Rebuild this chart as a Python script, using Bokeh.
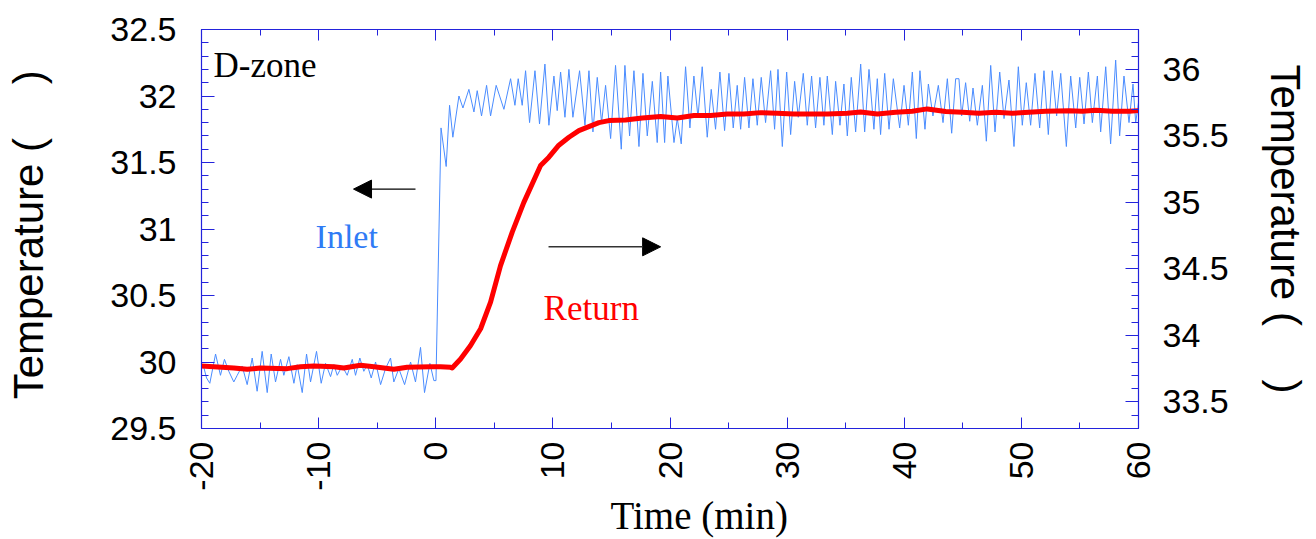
import math
from bokeh.plotting import figure
from bokeh.models import (Range1d, LinearAxis, Label, Arrow, NormalHead,
                          SingleIntervalTicker, CustomJSTickFormatter)
from bokeh.embed import file_html
from bokeh.resources import INLINE

# ---------------- data ----------------
inlet_time = [
    -20.0, -19.86, -19.57, -19.29, -18.80, -18.38, -18.04, -17.67, -17.24, -16.95,
    -16.53, -16.10, -15.67, -15.25, -14.82, -14.39, -14.05, -13.68, -13.25, -12.97,
    -12.54, -12.11, -11.83, -11.40, -11.03, -10.69, -10.18, -9.78, -9.41, -8.98,
    -8.70, -8.41, -7.99, -7.56, -7.13, -6.85, -6.48, -6.14, -5.85, -5.51,
    -5.14, -4.71, -4.29, -3.86, -3.58, -3.15, -2.66, -2.15, -1.73, -1.30,
    -0.96, -0.50, -0.16, 0.02,
    0.45, 0.89, 1.18, 1.46, 1.98, 2.32, 2.83, 3.26, 3.54, 3.91,
    4.34, 4.68, 5.16, 5.82, 6.39, 6.76, 7.04, 7.38, 7.67, 8.01,
    8.47, 8.86, 9.32, 9.66, 10.09, 10.37, 10.66, 11.03, 11.37, 11.71,
    12.28, 12.74, 13.08, 13.42, 13.79, 14.16, 14.50, 14.93, 15.35, 15.84,
    16.15, 16.55, 16.92, 17.35, 17.69, 18.06, 18.49, 18.91, 19.20,
    19.54, 19.82, 20.34, 20.62, 20.96, 21.33, 21.70, 22.04, 22.39, 22.75,
    23.18, 23.52, 23.89, 24.26, 24.66, 25.03, 25.40, 25.74, 26.03, 26.37,
    26.74, 27.08, 27.45, 27.79, 28.16, 28.59, 28.93, 29.22, 29.59, 29.96,
    30.30, 30.64, 30.95, 31.38, 31.72, 32.09, 32.43, 32.80, 33.14, 33.43,
    33.86, 34.14, 34.51, 34.85, 35.14, 35.48, 35.85, 36.28, 36.62, 36.99,
    37.41, 37.70, 37.98, 38.33, 38.70, 39.07,
    39.61, 39.98, 40.35, 40.69, 41.03, 41.34, 41.77, 42.06, 42.45, 42.91,
    43.31, 43.68, 44.05, 44.39, 44.67, 44.90, 45.24, 45.59, 45.87, 46.24,
    46.67, 47.01, 47.38, 47.75, 48.15, 48.52, 48.94, 49.37, 49.74, 50.08,
    50.42, 50.79, 51.16, 51.56, 51.93, 52.30, 52.64, 53.01, 53.36, 53.84,
    54.21, 54.64, 54.98, 55.35, 55.72, 56.06, 56.49, 56.77, 57.20, 57.62,
    58.05, 58.39, 58.76, 59.19, 59.53, 59.76, 60.0,
]
inlet_temp = [
    29.96, 29.98, 29.88, 29.84, 30.06, 29.90, 30.02, 29.93, 29.85, 29.90,
    29.97, 29.83, 30.03, 29.78, 30.08, 29.77, 30.06, 29.85, 30.02, 29.90,
    30.04, 29.84, 29.98, 29.77, 30.06, 29.85, 30.08, 29.84, 29.99, 29.89,
    29.98, 29.90, 29.97, 29.90, 30.02, 29.90, 30.03, 29.93, 29.98, 29.88,
    30.00, 29.83, 29.95, 30.03, 29.85, 29.95, 29.83, 30.00, 29.85, 30.11,
    29.77, 29.99, 29.86, 29.86,
    31.76, 31.47, 31.93, 31.69, 32.00, 31.91, 32.05, 31.88, 32.04, 31.85,
    32.08, 31.85, 32.08, 31.90, 32.13, 31.93, 32.13, 31.93, 32.19, 31.80,
    32.19, 31.79, 32.24, 31.78, 32.15, 31.89, 32.18, 31.84, 32.20, 31.84,
    32.19, 31.78, 32.19, 31.73, 32.14, 31.80, 32.08, 31.68, 32.23, 31.60,
    32.23, 31.70, 32.19, 31.62, 32.17, 31.70, 32.11, 31.65, 32.18,
    31.65, 32.15, 31.65, 31.83, 31.64, 32.22, 31.76, 32.15, 31.84, 32.22,
    31.69, 32.05, 31.75, 32.18, 31.74, 32.17, 31.76, 32.08, 31.75, 32.14,
    31.76, 32.13, 31.78, 32.14, 31.80, 32.19, 31.75, 32.20, 31.62, 32.18,
    31.71, 32.11, 31.84, 32.17, 31.78, 32.15, 31.76, 32.14, 31.78, 32.15,
    31.71, 32.11, 31.78, 32.09, 31.70, 32.14, 31.73, 32.24, 31.73, 32.20,
    31.75, 32.13, 31.71, 32.17, 31.75, 32.13,
    31.76, 32.08, 31.78, 32.18, 31.68, 32.19, 31.75, 32.09, 31.85, 32.08,
    31.80, 32.13, 31.72, 32.13, 32.13, 31.85, 32.10, 31.81, 32.06, 31.78,
    32.08, 31.66, 32.23, 31.73, 32.18, 31.83, 32.12, 31.62, 32.22, 31.78,
    32.10, 31.78, 32.17, 31.76, 32.19, 31.71, 32.19, 31.85, 32.17, 31.62,
    32.15, 31.76, 32.14, 31.79, 32.18, 31.80, 32.15, 31.73, 32.22, 31.64,
    32.27, 31.70, 32.15, 31.80, 32.09, 31.80, 31.95,
]

return_time = [
    -20.0, -17.24, -16.1, -14.96, -12.68, -11.55, -10.4, -8.7, -7.85, -6.42,
    -5.28, -3.58, -2.44, -0.44, 0.41, 1.26, 1.4, 2.12, 2.97, 3.83,
    4.68, 5.53, 6.53, 7.52, 8.95, 9.66, 10.51, 11.37, 12.22, 13.07,
    13.93, 14.78, 16.2, 17.63, 19.2, 20.62, 22.04, 23.47, 24.89, 26.31,
    27.74, 29.16, 30.58, 32.0, 33.43, 35.14, 36.28, 37.7, 39.27, 40.69,
    41.97, 43.54, 44.96, 46.38, 47.8, 49.23, 50.65, 52.07, 54.07, 55.21,
    56.35, 57.77, 59.19, 60.0,
]
return_temp = [
    33.77, 33.755, 33.745, 33.755, 33.75, 33.765, 33.77, 33.765, 33.755, 33.775,
    33.765, 33.745, 33.76, 33.765, 33.765, 33.76, 33.755, 33.823, 33.924, 34.05,
    34.25, 34.525, 34.776, 35.00, 35.277, 35.34, 35.43, 35.49, 35.54, 35.57,
    35.60, 35.615, 35.62, 35.635, 35.646, 35.635, 35.653, 35.653, 35.665, 35.665,
    35.675, 35.67, 35.665, 35.665, 35.665, 35.67, 35.68, 35.665, 35.678, 35.685,
    35.703, 35.683, 35.678, 35.67, 35.678, 35.67, 35.678, 35.685, 35.69, 35.685,
    35.693, 35.685, 35.685, 35.69,
]

x_range_min, x_range_max = -20, 60
left_min, left_max = 29.5, 32.5
right_min, right_max = 33.3, 36.3

# ---------------- styling ----------------
AX = "#2323dc"
BLUE_LINE = "#4a8cff"
SANS = "Liberation Sans"
SERIF = "Liberation Serif"

p = figure(width=1316, height=539, output_backend="svg", toolbar_location=None,
           x_range=Range1d(x_range_min, x_range_max),
           y_range=Range1d(left_min, left_max),
           min_border_left=201, min_border_right=178,
           min_border_top=29, min_border_bottom=110)
p.extra_y_ranges = {"ret": Range1d(right_min, right_max)}
p.xgrid.visible = False
p.ygrid.visible = False
p.outline_line_color = AX
p.outline_line_width = 1.2
p.background_fill_color = "white"
p.border_fill_color = "white"

plain_int = CustomJSTickFormatter(code="return tick.toFixed(0)")
plain_num = CustomJSTickFormatter(code="return String(Math.round(tick*10)/10)")


def style_axis(ax, major, minor):
    ax.axis_line_color = AX
    ax.major_tick_line_color = AX
    ax.minor_tick_line_color = AX
    ax.major_tick_in = major
    ax.major_tick_out = 0
    ax.minor_tick_in = minor
    ax.minor_tick_out = 0
    ax.major_label_text_font = SANS
    ax.major_label_text_font_size = "34px"
    ax.major_label_text_color = "black"
    ax.axis_label_text_color = "black"


xax = p.xaxis[0]
xax.ticker = SingleIntervalTicker(interval=10, num_minor_ticks=2)
xax.formatter = plain_int
style_axis(xax, 11, 6)
xax.major_label_orientation = math.pi / 2
xax.major_label_standoff = 13
xax.axis_label = "\u2003\u2002Time (min)"
xax.axis_label_text_font = SERIF
xax.axis_label_text_font_size = "39px"
xax.axis_label_text_font_style = "normal"
xax.axis_label_standoff = 0

yax = p.yaxis[0]
yax.ticker = SingleIntervalTicker(interval=0.5, num_minor_ticks=5)
yax.formatter = plain_num
style_axis(yax, 13, 7)
yax.major_label_standoff = 25
yax.axis_label = "Temperature (\u2003\u00a0)\u00a0"
yax.axis_label_text_font = SANS
yax.axis_label_text_font_size = "42px"
yax.axis_label_text_font_style = "normal"
yax.axis_label_standoff = 55

rax = LinearAxis(y_range_name="ret",
                 ticker=SingleIntervalTicker(interval=0.5, num_minor_ticks=5),
                 formatter=plain_num)
style_axis(rax, 13, 7)
rax.major_label_standoff = 24
rax.axis_label = "Temperature (\u2003\u00a0)"
rax.axis_label_text_font = SANS
rax.axis_label_text_font_size = "42px"
rax.axis_label_text_font_style = "normal"
rax.axis_label_standoff = 30
p.add_layout(rax, "right")

tax = LinearAxis(ticker=SingleIntervalTicker(interval=10, num_minor_ticks=2),
                 formatter=CustomJSTickFormatter(code="return ''"))
style_axis(tax, 11, 6)
tax.major_label_standoff = 0
tax.major_label_text_font_size = "1px"
p.add_layout(tax, "above")

# ---------------- series ----------------
p.line(inlet_time, inlet_temp, line_color=BLUE_LINE, line_width=1)
p.line(return_time, return_temp, y_range_name="ret", line_color="#ff0000",
       line_width=5, line_join="round")

# ---------------- annotations ----------------
p.add_layout(Label(x=-18.98, y=32.23, text="D-zone", text_font=SERIF,
                   text_font_size="35px", text_color="black",
                   text_baseline="alphabetic"))
p.add_layout(Label(x=-10.26, y=30.94, text="Inlet", text_font=SERIF,
                   text_font_size="34px", text_color="#2f7bf5",
                   text_baseline="alphabetic"))
p.add_layout(Label(x=9.21, y=30.40, text="Return", text_font=SERIF,
                   text_font_size="35px", text_color="#ff0000",
                   text_baseline="alphabetic"))
p.add_layout(Arrow(end=NormalHead(size=18, fill_color="black", line_color="black"),
                   x_start=-1.73, y_start=31.30, x_end=-7.02, y_end=31.30,
                   line_color="black", line_width=1.2))
p.add_layout(Arrow(end=NormalHead(size=18, fill_color="black", line_color="black"),
                   x_start=9.63, y_start=30.866, x_end=19.20, y_end=30.866,
                   line_color="#333333", line_width=1.5))

open("out.html", "w").write(file_html(p, INLINE))
